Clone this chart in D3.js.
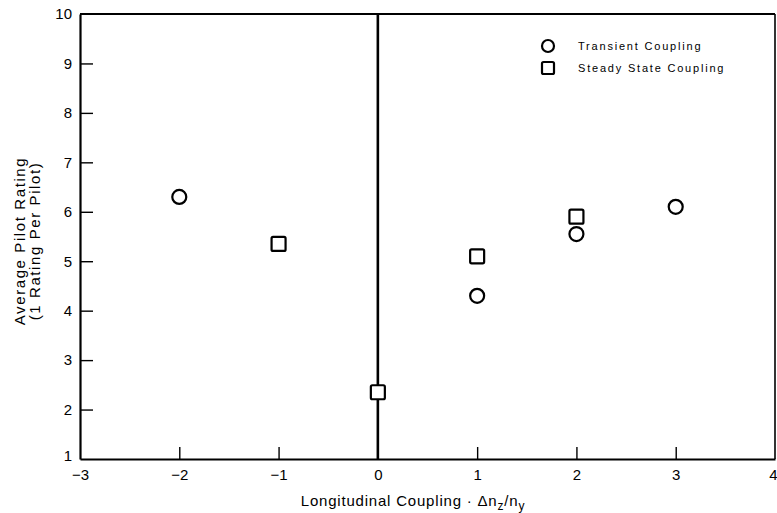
<!DOCTYPE html>
<html>
<head>
<meta charset="utf-8">
<script src="https://cdn.jsdelivr.net/npm/d3@7"></script>
<style>
  html, body { margin: 0; padding: 0; background: #fff; }
  svg { display: block; font-family: "Liberation Sans", Arial, Helvetica, sans-serif; }
</style>
</head>
<body>
<svg id="chart" width="777" height="513"></svg>
<script>
// ---- data ----
const transientX = [-2, 1, 2, 3];
const transientY = [6.3, 4.3, 5.55, 6.1];
const steadyX = [-1, 0, 1, 2];
const steadyY = [5.35, 2.35, 5.1, 5.9];
const xTicks = [-3, -2, -1, 0, 1, 2, 3, 4];
const yTicks = [1, 2, 3, 4, 5, 6, 7, 8, 9, 10];
const legendLabels = ["Transient Coupling", "Steady State Coupling"];
const yTitleLines = ["Average Pilot Rating", "(1 Rating Per Pilot)"];

// ---- layout ----
const mLeft = 80, mRight = 775, mTop = 14, mBottom = 459;
const svg = d3.select("#chart");
const x = d3.scaleLinear().domain([-3, 4]).range([mLeft, mRight]);
const y = d3.scaleLinear().domain([1, 10]).range([mBottom, mTop]);

// frame
svg.append("line").attr("x1", mLeft).attr("x2", mRight).attr("y1", mTop).attr("y2", mTop)
  .attr("stroke", "#000").attr("stroke-width", 2);
svg.append("line").attr("x1", mRight).attr("x2", mRight).attr("y1", mTop).attr("y2", mBottom)
  .attr("stroke", "#000").attr("stroke-width", 1.6);

// axes
const fmtInt = d3.format("d");
const xAxis = svg.append("g").attr("transform", `translate(0,${mBottom})`)
  .call(d3.axisBottom(x).tickValues(xTicks).tickSize(-12).tickSizeOuter(0).tickPadding(10)
    .tickFormat(fmtInt));
const yAxis = svg.append("g").attr("transform", `translate(${mLeft},0)`)
  .call(d3.axisLeft(y).tickValues(yTicks).tickSize(-13).tickSizeOuter(0).tickPadding(8)
    .tickFormat(fmtInt));
[xAxis, yAxis].forEach(g => {
  g.select(".domain").attr("stroke", "#000").attr("stroke-width", 2.2);
  g.selectAll(".tick line").attr("stroke", "#000").attr("stroke-width", 1.4);
  g.selectAll(".tick text").attr("font-size", 15).attr("fill", "#000")
    .attr("font-family", "'Liberation Sans', Arial, sans-serif");
});
// hide ticks that coincide with frame
yAxis.selectAll(".tick").filter(d => d === 1 || d === 10).select("line").remove();
xAxis.selectAll(".tick").filter(d => d === -3 || d === 4 || d === 0).select("line").remove();
// the "1" label sits slightly above the corner, the last x label hugs the right edge
yAxis.selectAll(".tick").filter(d => d === 1).select("text").attr("dy", "0.1em");
xAxis.selectAll(".tick").filter(d => d === 4).select("text")
  .attr("text-anchor", "end").attr("x", 2);

// vertical zero line
svg.append("line").attr("x1", x(0)).attr("x2", x(0)).attr("y1", mTop).attr("y2", mBottom)
  .attr("stroke", "#000").attr("stroke-width", 2.6);

// markers
const circleR = 7, sq = 14;
svg.append("g").selectAll("circle").data(d3.range(transientX.length)).join("circle")
  .attr("cx", i => x(transientX[i])).attr("cy", i => y(transientY[i])).attr("r", circleR)
  .attr("fill", "#fff").attr("stroke", "#000").attr("stroke-width", 2.2);
svg.append("g").selectAll("rect").data(d3.range(steadyX.length)).join("rect")
  .attr("x", i => x(steadyX[i]) - sq / 2).attr("y", i => y(steadyY[i]) - sq / 2)
  .attr("width", sq).attr("height", sq).attr("rx", 1.5)
  .attr("fill", "#fff").attr("stroke", "#000").attr("stroke-width", 2.2);

// legend
const lg = svg.append("g").attr("font-size", 11).attr("letter-spacing", 1.8);
lg.append("circle").attr("cx", 548).attr("cy", 46).attr("r", 6)
  .attr("fill", "#fff").attr("stroke", "#000").attr("stroke-width", 2.2);
lg.append("rect").attr("x", 542).attr("y", 62).attr("width", 12).attr("height", 12).attr("rx", 1.5)
  .attr("fill", "#fff").attr("stroke", "#000").attr("stroke-width", 2.2);
lg.selectAll("text").data(legendLabels).join("text")
  .attr("x", 578).attr("y", (d, i) => 50 + i * 22).text(d => d);

// x title
const xt = svg.append("text").attr("x", 413).attr("y", 506).attr("text-anchor", "middle")
  .attr("font-size", 15).attr("letter-spacing", 0.8);
xt.append("tspan").text("Longitudinal Coupling \u00B7 \u0394n");
xt.append("tspan").attr("font-size", 12).attr("dy", 4).text("z");
xt.append("tspan").attr("dy", -4).text("/n");
xt.append("tspan").attr("font-size", 12).attr("dy", 4).text("y");

// y title
svg.append("g").selectAll("text").data(yTitleLines).join("text")
  .attr("transform", (d, i) => `translate(${i === 0 ? 25 : 40},241) rotate(-90)`)
  .attr("text-anchor", "middle").attr("font-size", 15).attr("letter-spacing", 1.6)
  .text(d => d);
</script>
</body>
</html>
